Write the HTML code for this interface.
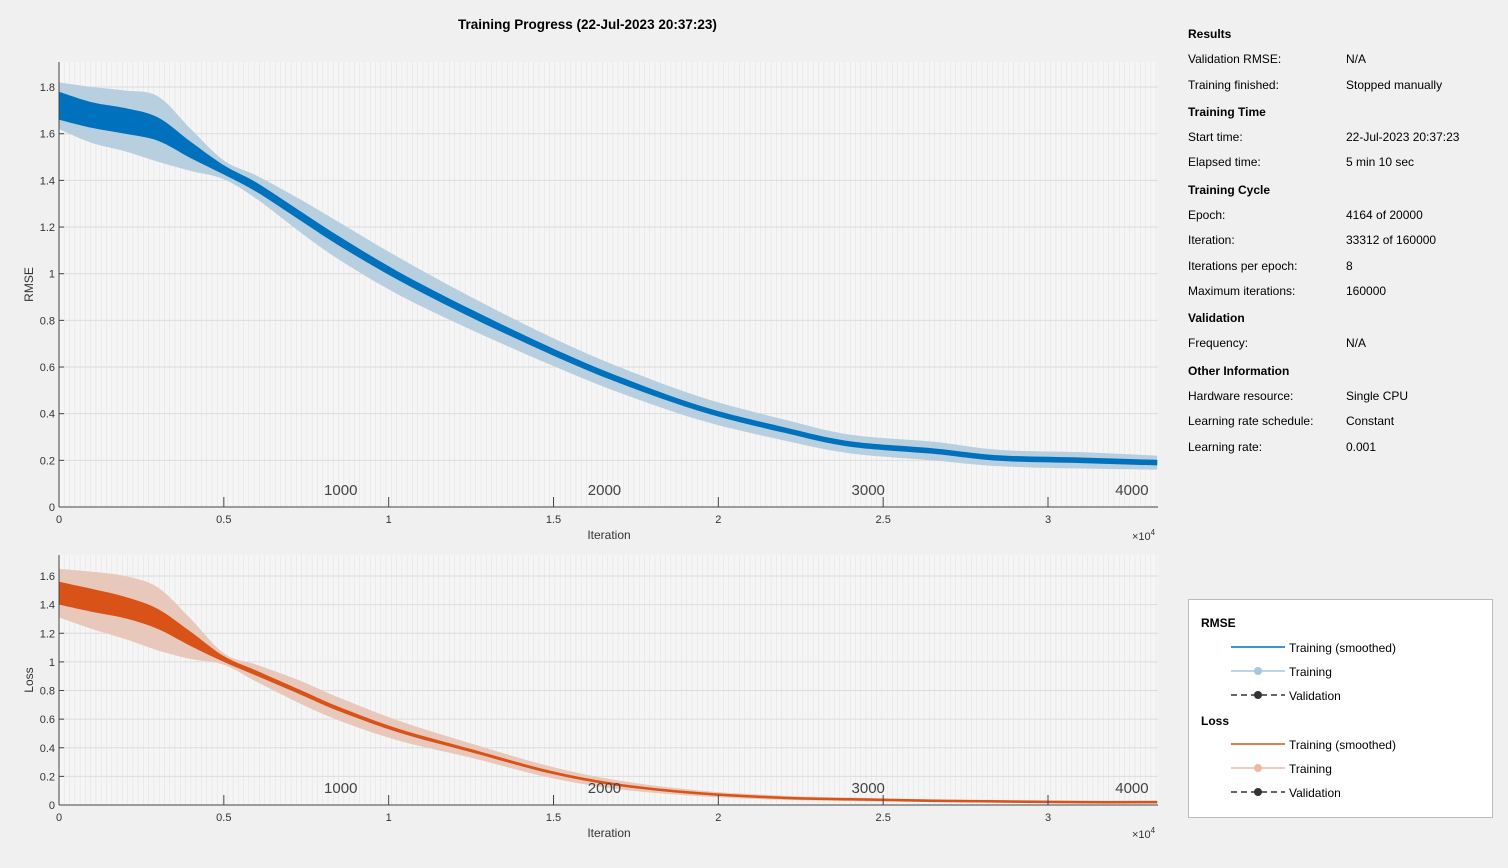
<!DOCTYPE html>
<html><head><meta charset="utf-8"><style>
body{margin:0;width:1508px;height:868px;background:#f0f0f0;font-family:"Liberation Sans",sans-serif;overflow:hidden;position:relative}
.t{position:absolute;font-size:12px;color:#000;white-space:nowrap}
.h{font-weight:bold}
#legend{position:absolute;left:1188px;top:599px;width:303px;height:217px;border:1px solid #bbb;background:#fff}
</style></head><body>
<svg id="chart" width="1160" height="868" style="position:absolute;left:0;top:0"></svg>
<div class="t h" style="left:458px;top:17px;font-size:13.5px">Training Progress (22-Jul-2023 20:37:23)</div>
<div id="panel">
<div class="t h" style="left:1188px;top:27px">Results</div>
<div class="t" style="left:1188px;top:52px">Validation RMSE:</div><div class="t" style="left:1346px;top:52px">N/A</div>
<div class="t" style="left:1188px;top:78px">Training finished:</div><div class="t" style="left:1346px;top:78px">Stopped manually</div>
<div class="t h" style="left:1188px;top:105px">Training Time</div>
<div class="t" style="left:1188px;top:130px">Start time:</div><div class="t" style="left:1346px;top:130px">22-Jul-2023 20:37:23</div>
<div class="t" style="left:1188px;top:155px">Elapsed time:</div><div class="t" style="left:1346px;top:155px">5 min 10 sec</div>
<div class="t h" style="left:1188px;top:183px">Training Cycle</div>
<div class="t" style="left:1188px;top:208px">Epoch:</div><div class="t" style="left:1346px;top:208px">4164 of 20000</div>
<div class="t" style="left:1188px;top:233px">Iteration:</div><div class="t" style="left:1346px;top:233px">33312 of 160000</div>
<div class="t" style="left:1188px;top:259px">Iterations per epoch:</div><div class="t" style="left:1346px;top:259px">8</div>
<div class="t" style="left:1188px;top:284px">Maximum iterations:</div><div class="t" style="left:1346px;top:284px">160000</div>
<div class="t h" style="left:1188px;top:311px">Validation</div>
<div class="t" style="left:1188px;top:336px">Frequency:</div><div class="t" style="left:1346px;top:336px">N/A</div>
<div class="t h" style="left:1188px;top:364px">Other Information</div>
<div class="t" style="left:1188px;top:389px">Hardware resource:</div><div class="t" style="left:1346px;top:389px">Single CPU</div>
<div class="t" style="left:1188px;top:414px">Learning rate schedule:</div><div class="t" style="left:1346px;top:414px">Constant</div>
<div class="t" style="left:1188px;top:440px">Learning rate:</div><div class="t" style="left:1346px;top:440px">0.001</div>
</div>
<div id="legend">
<svg width="303" height="217" style="position:absolute;left:0;top:0">
<line x1="42" y1="47" x2="96" y2="47" stroke="#0072bd" stroke-width="1.5"/>
<line x1="42" y1="71" x2="96" y2="71" stroke="#a6c8e0" stroke-width="1.5"/><circle cx="69" cy="71" r="4" fill="#a6c8e0"/>
<line x1="42" y1="95" x2="96" y2="95" stroke="#333" stroke-width="1.5" stroke-dasharray="6,4"/><circle cx="69" cy="95" r="4" fill="#333"/>
<line x1="42" y1="144" x2="96" y2="144" stroke="#d95319" stroke-width="1.5"/>
<line x1="42" y1="168" x2="96" y2="168" stroke="#f0b9a0" stroke-width="1.5"/><circle cx="69" cy="168" r="4" fill="#f0b9a0"/>
<line x1="42" y1="192" x2="96" y2="192" stroke="#333" stroke-width="1.5" stroke-dasharray="6,4"/><circle cx="69" cy="192" r="4" fill="#333"/>
</svg>
<div class="t h" style="left:12px;top:16px">RMSE</div>
<div class="t" style="left:100px;top:41px">Training (smoothed)</div>
<div class="t" style="left:100px;top:65px">Training</div>
<div class="t" style="left:100px;top:89px">Validation</div>
<div class="t h" style="left:12px;top:114px">Loss</div>
<div class="t" style="left:100px;top:138px">Training (smoothed)</div>
<div class="t" style="left:100px;top:162px">Training</div>
<div class="t" style="left:100px;top:186px">Validation</div>
</div>
<script>
const iters=[0,1000,2000,3000,4000,5000,6000,7300,8500,10300,12500,14900,17000,19500,22000,24000,26500,28500,31000,33312];
const rmseMean=[1.72,1.68,1.655,1.62,1.53,1.445,1.37,1.25,1.14,0.99,0.83,0.67,0.545,0.42,0.33,0.27,0.24,0.21,0.2,0.19];
const rmseDark=[0.06,0.055,0.055,0.05,0.035,0.02,0.02,0.02,0.02,0.018,0.017,0.015,0.014,0.012,0.012,0.012,0.012,0.012,0.012,0.012];
const rmseLight=[0.1,0.12,0.13,0.14,0.09,0.04,0.05,0.07,0.08,0.08,0.07,0.06,0.055,0.05,0.045,0.04,0.04,0.035,0.035,0.03];
const lossMean=[1.48,1.43,1.38,1.3,1.16,1.02,0.92,0.79,0.67,0.52,0.38,0.23,0.14,0.08,0.05,0.04,0.03,0.025,0.02,0.02];
const lossDark=[0.08,0.08,0.075,0.07,0.05,0.02,0.018,0.016,0.015,0.013,0.011,0.01,0.008,0.007,0.006,0.006,0.005,0.005,0.005,0.005];
const lossLight=[0.17,0.2,0.22,0.22,0.14,0.04,0.06,0.08,0.08,0.07,0.05,0.04,0.03,0.02,0.015,0.012,0.01,0.01,0.01,0.01];
const xTicks=[0,0.5,1,1.5,2,2.5,3];
const rmseTicks=[0,0.2,0.4,0.6,0.8,1,1.2,1.4,1.6,1.8];
const lossTicks=[0,0.2,0.4,0.6,0.8,1,1.2,1.4,1.6];
const epochTicks=[1000,2000,3000,4000];
const NS='http://www.w3.org/2000/svg';
const svg=document.getElementById('chart');
function mk(tag,attrs,parent){const e=document.createElementNS(NS,tag);for(const k in attrs)e.setAttribute(k,attrs[k]);(parent||svg).appendChild(e);return e;}
const X0=59,X1=1158;
function xs(it){return X0+it/10000*329.67;}
function spline(pts,start){let d=start?'M'+pts[0][0]+','+pts[0][1]:'L'+pts[0][0]+','+pts[0][1];
  for(let i=0;i<pts.length-1;i++){const p0=pts[Math.max(0,i-1)],p1=pts[i],p2=pts[i+1],p3=pts[Math.min(pts.length-1,i+2)];
    const c1=[p1[0]+(p2[0]-p0[0])/6,p1[1]+(p2[1]-p0[1])/6],c2=[p2[0]-(p3[0]-p1[0])/6,p2[1]-(p3[1]-p1[1])/6];
    d+=` C${c1[0]},${c1[1]} ${c2[0]},${c2[1]} ${p2[0]},${p2[1]}`;}
  return d;}
function drawPanel(cfg){
  const ys=v=>cfg.y0-v*cfg.scale;
  const g=mk('g',{});
  
  
  mk('rect',{x:X0,y:cfg.top,width:X1-X0,height:cfg.y0-cfg.top,fill:'#f5f5f5'},g);
  for(let e=0;e<=4164;e+=20){const x=xs(e*8);mk('line',{x1:x,y1:cfg.top,x2:x,y2:cfg.y0,stroke:'#e4e4e4','stroke-width':0.6},g);}
  cfg.ticks.forEach(t=>{const y=ys(t);
    mk('line',{x1:X0,y1:y,x2:X1,y2:y,stroke:'#dcdcdc','stroke-width':1},g);
    mk('line',{x1:X0,y1:y,x2:X0+5,y2:y,stroke:'#444'},g);
    const tx=mk('text',{x:X0-4,y:y+4,'text-anchor':'end','font-size':11,fill:'#333','font-family':'Liberation Sans'},g);tx.textContent=String(t);});
  function band(w,color){const top=iters.map((it,i)=>[xs(it),ys(cfg.mean[i]+w[i])]);
    const bot=iters.map((it,i)=>[xs(it),ys(cfg.mean[i]-w[i])]).reverse();
    return mk('path',{d:spline(top,true)+spline(bot,false)+'Z',fill:color},g);}
  const l=band(cfg.light,cfg.lightColor);
  const d=band(cfg.dark,cfg.color);
  const ln=mk('path',{d:spline(iters.map((it,i)=>[xs(it),ys(cfg.mean[i])]),true),fill:'none',stroke:cfg.color,'stroke-width':2.5},g);
  
  mk('line',{x1:X0,y1:cfg.top,x2:X0,y2:cfg.y0,stroke:'#444'},g);
  mk('line',{x1:X0,y1:cfg.y0,x2:X1,y2:cfg.y0,stroke:'#444'},g);
  xTicks.forEach(t=>{const x=xs(t*10000);
    mk('line',{x1:x,y1:cfg.y0,x2:x,y2:cfg.y0-10,stroke:'#444'},g);
    const tx=mk('text',{x:x,y:cfg.y0+16,'text-anchor':'middle','font-size':11,fill:'#333','font-family':'Liberation Sans'},g);tx.textContent=String(t);});
  epochTicks.forEach(e=>{const x=xs(e*8);
    const tx=mk('text',{x:x+18,y:cfg.y0-12,'text-anchor':'middle','font-size':15,fill:'#444','font-family':'Liberation Sans'},g);tx.textContent=String(e);});
  const xl=mk('text',{x:609,y:cfg.y0+32,'text-anchor':'middle','font-size':12,fill:'#333','font-family':'Liberation Sans'},g);xl.textContent='Iteration';
  const ex=mk('text',{x:1132,y:cfg.y0+33,'font-size':11,fill:'#333','font-family':'Liberation Sans'},g);ex.innerHTML='×10<tspan dy="-5" font-size="8">4</tspan>';
  const yl=mk('text',{x:33,y:(cfg.top+cfg.y0)/2,'text-anchor':'middle','font-size':12,fill:'#333','font-family':'Liberation Sans',transform:`rotate(-90 33 ${(cfg.top+cfg.y0)/2})`},g);yl.textContent=cfg.label;
}
drawPanel({name:'rmse-plot',top:62,y0:507,scale:233.3,ticks:rmseTicks,mean:rmseMean,dark:rmseDark,light:rmseLight,color:'#0072bd',lightColor:'#b8cfdf',label:'RMSE'});
drawPanel({name:'loss-plot',top:555,y0:805,scale:143.1,ticks:lossTicks,mean:lossMean,dark:lossDark,light:lossLight,color:'#d95319',lightColor:'#e8c8bb',label:'Loss'});
</script>
</body></html>
